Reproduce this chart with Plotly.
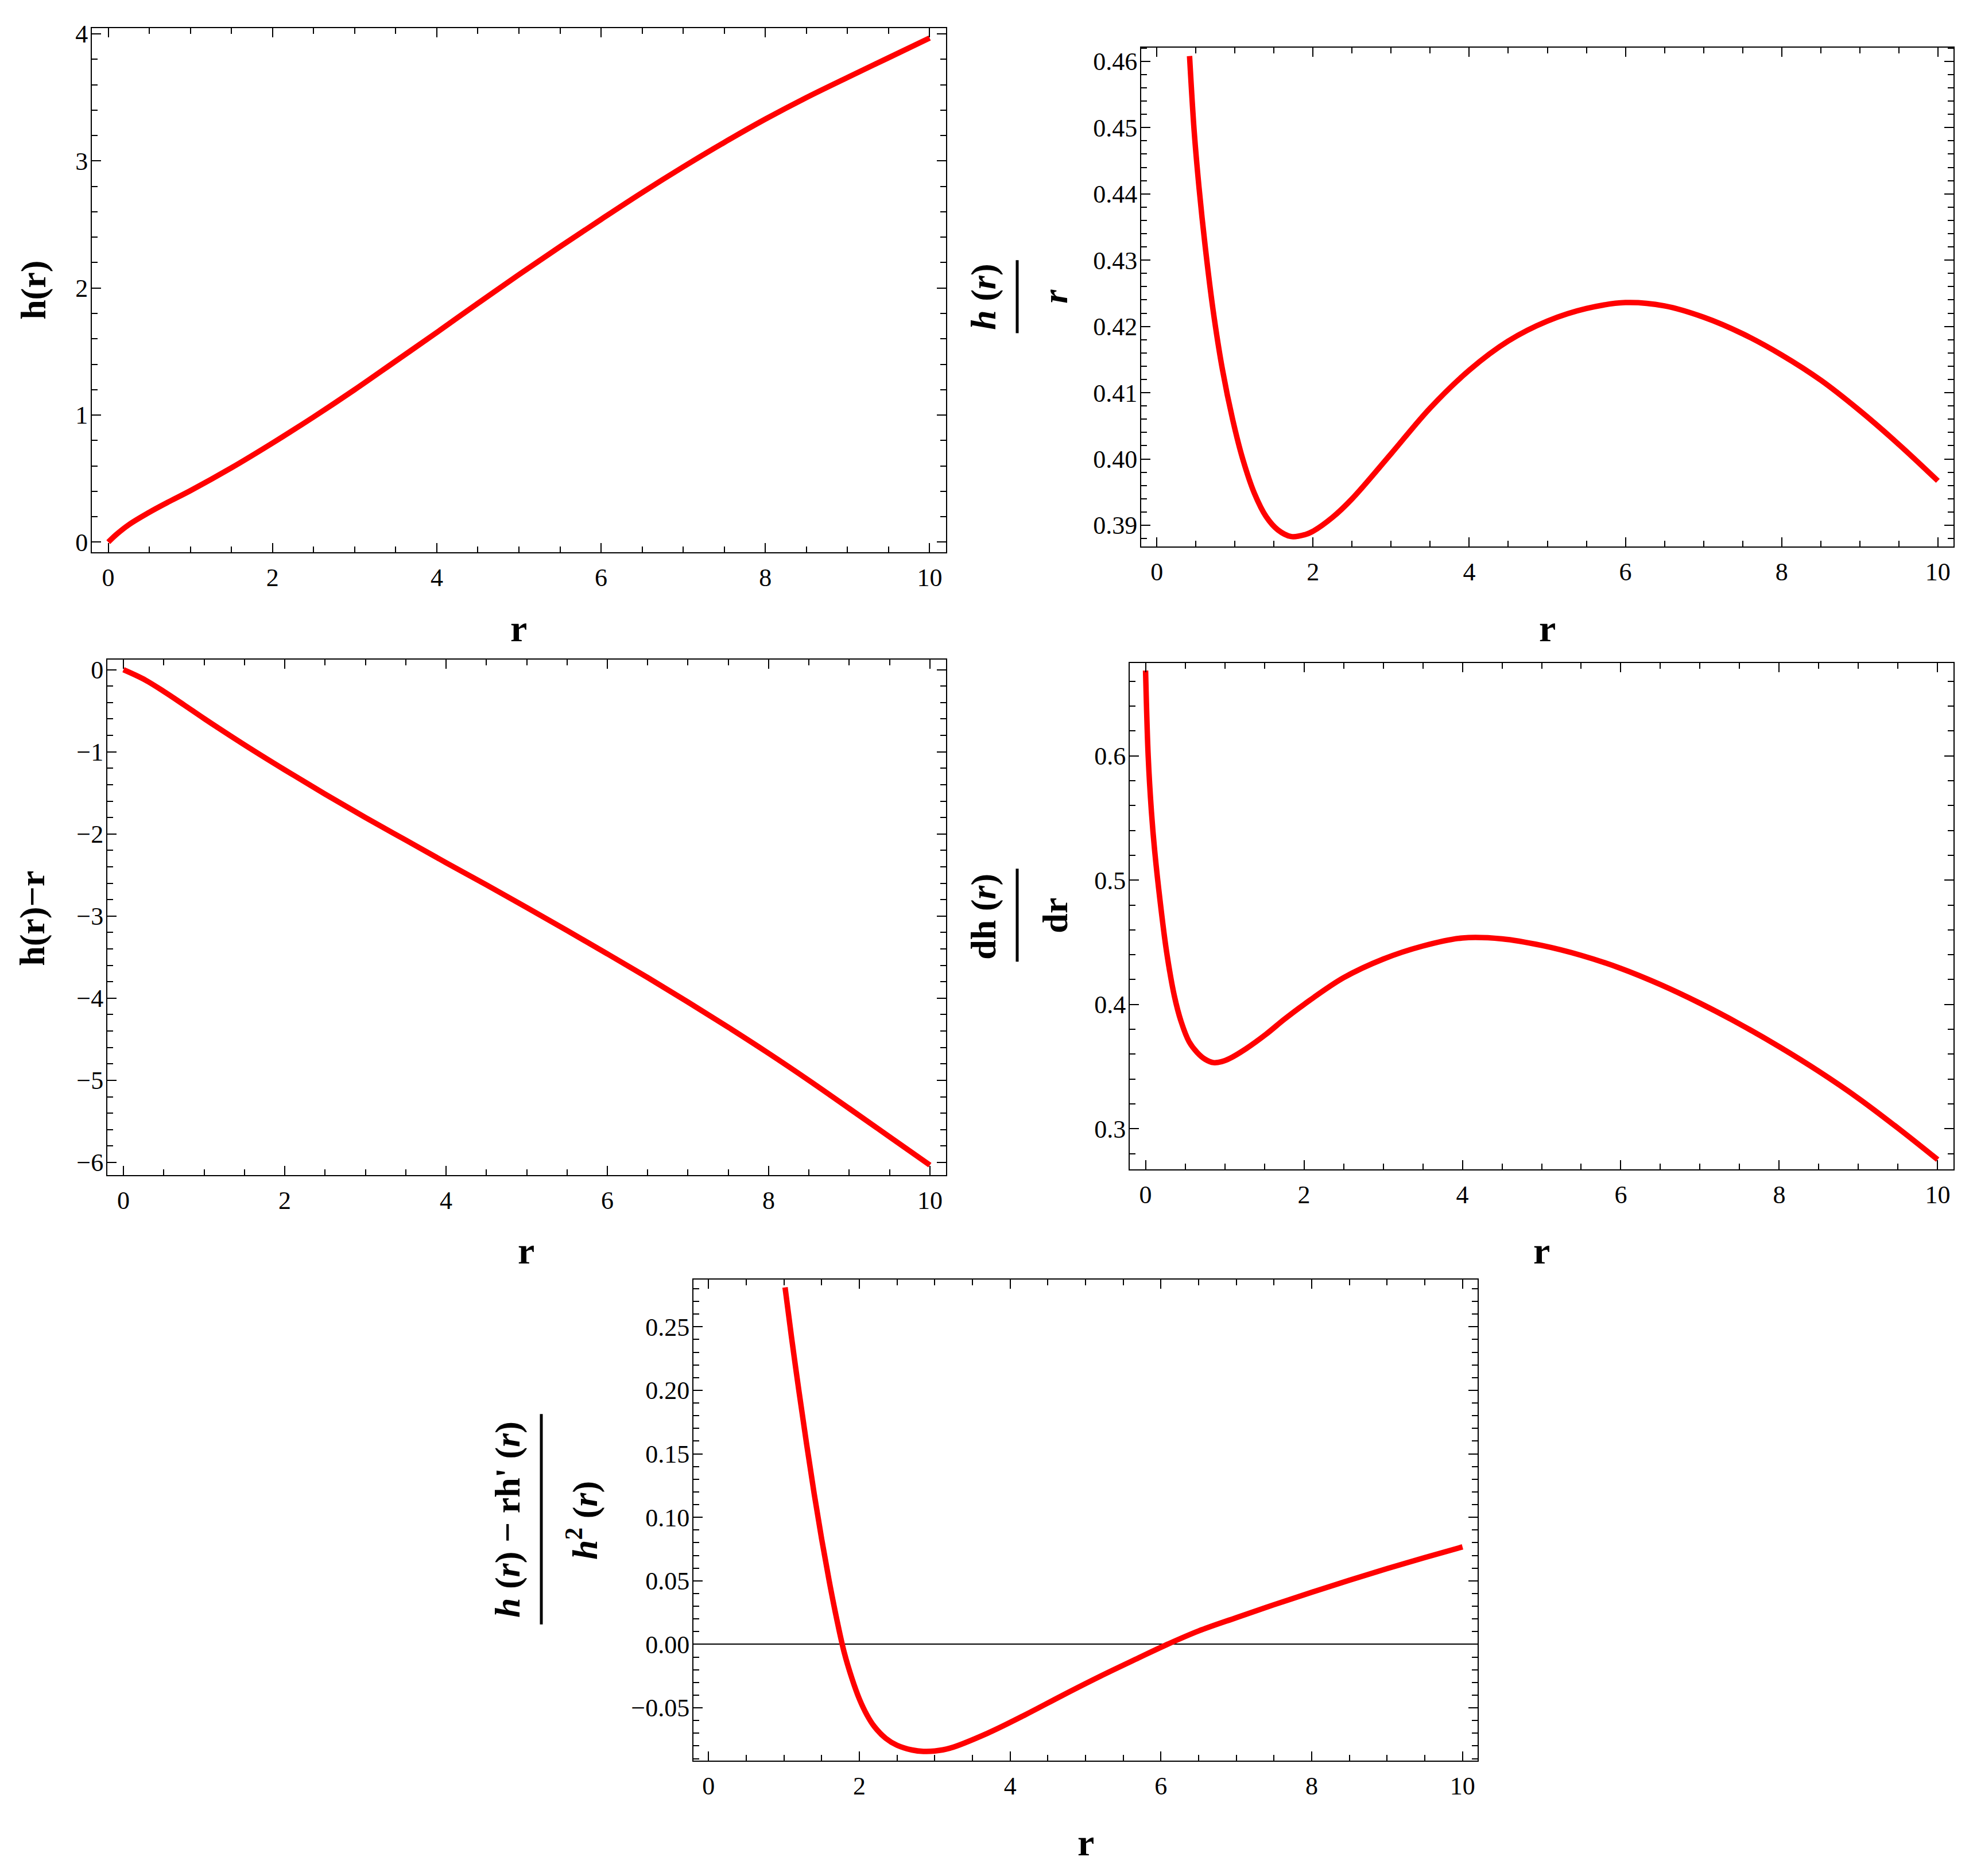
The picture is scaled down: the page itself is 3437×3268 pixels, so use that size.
import plotly.graph_objects as go

W, H = 3437, 3268
FONT = "Liberation Serif"

# h(r)
r_h = [0, 0.1, 0.25, 0.5, 0.75, 1, 1.5, 2, 2.5, 3, 3.5, 4, 4.5, 5, 5.5, 6, 6.5, 7, 7.5, 8, 8.5, 9, 9.5, 10]
h_vals = [0, 0.061, 0.137, 0.235, 0.322, 0.405, 0.585, 0.78, 0.985, 1.20, 1.425, 1.65, 1.88, 2.105,
          2.325, 2.54, 2.751, 2.953, 3.146, 3.329, 3.499, 3.657, 3.812, 3.967]

# h(r)/r
r_ratio = [0.419, 0.478, 0.54, 0.62, 0.72, 0.84, 0.97, 1.1, 1.25, 1.4, 1.55, 1.72, 1.9, 2.0, 2.25,
           2.5, 3.0, 3.5, 4.0, 4.5, 5.0, 5.5, 6.0, 6.5, 7.0, 7.5, 8.0, 8.5, 9.0, 9.5, 10]
ratio_vals = [0.4608, 0.4495, 0.4410, 0.4320, 0.4225, 0.4135, 0.4060, 0.4000, 0.3948, 0.3913,
              0.3893, 0.3883, 0.3886, 0.3891, 0.3912, 0.3940, 0.4008, 0.4077, 0.4134, 0.4178,
              0.4208, 0.4227, 0.4236, 0.4231, 0.4214, 0.4189, 0.4157, 0.4119, 0.4073, 0.4022,
              0.3967]

# h(r) - r
r_diff = [0, 0.25, 0.5, 0.75, 1, 1.5, 2, 2.5, 3, 3.5, 4, 4.5, 5, 5.5, 6, 6.5, 7, 7.5, 8, 8.5, 9, 9.5, 10]
diff_vals = [0, -0.115, -0.265, -0.428, -0.595, -0.915, -1.22, -1.515, -1.80, -2.075, -2.35, -2.62,
             -2.895, -3.175, -3.46, -3.749, -4.047, -4.354, -4.671, -5.001, -5.343, -5.688, -6.033]

# dh/dr
r_deriv = [0, 0.033, 0.074, 0.116, 0.182, 0.264, 0.363, 0.45, 0.55, 0.65, 0.75, 0.86, 0.96, 1.06,
           1.27, 1.52, 1.75, 2.0, 2.5, 3.0, 3.5, 4.0, 4.5, 5.0, 5.5, 6.0, 6.5, 7.0, 7.5, 8.0, 8.5,
           9.0, 9.5, 10]
deriv_vals = [0.6686, 0.600, 0.555, 0.523, 0.484, 0.443, 0.407, 0.386, 0.370, 0.3615, 0.356, 0.3532,
              0.354, 0.3565, 0.3645, 0.376, 0.388, 0.400, 0.4215, 0.4365, 0.4470, 0.4535, 0.4528,
              0.4475, 0.4395, 0.4290, 0.4160, 0.4010, 0.3843, 0.3660, 0.3462, 0.3245, 0.3005, 0.2752]

# (h - r h') / h^2
r_q = [1.015, 1.1, 1.2, 1.3, 1.4, 1.5, 1.6, 1.7, 1.8, 1.9, 2.0, 2.1, 2.2, 2.35, 2.5, 2.7, 2.85,
       3.0, 3.2, 3.7, 4.2, 4.7, 5.2, 5.7, 6.05, 6.5, 7.0, 7.5, 8.0, 8.5, 9.0, 9.5, 10]
q_vals = [0.281, 0.242, 0.199, 0.158, 0.119, 0.083, 0.050, 0.020, -0.0065, -0.0265, -0.0430,
          -0.0555, -0.0648, -0.0740, -0.0795, -0.0832, -0.0843, -0.0840, -0.0818, -0.0700,
          -0.0555, -0.0400, -0.0250, -0.0108, -0.0010, 0.0105, 0.0210, 0.0312, 0.0410, 0.0505,
          0.0596, 0.0683, 0.0767]


def px(x):
    return x / W


def py(y):
    return 1 - y / H


# frame boxes in pixels: left, right, top, bottom
panels = [
    dict(x=r_h, y=h_vals, box=(152, 1640, 28, 947), yr=[-0.079, 4.046], dt=1, mdt=0.2, fmt=""),
    dict(x=r_ratio, y=ratio_vals, box=(1980, 3395, 62, 937), yr=[0.3868, 0.4621], dt=0.01, mdt=0.002, fmt=".2f"),
    dict(x=r_diff, y=diff_vals, box=(179, 1640, 1135, 2039), yr=[-6.153, 0.125], dt=1, mdt=0.2, fmt=""),
    dict(x=r_deriv, y=deriv_vals, box=(1960, 3395, 1141, 2029), yr=[0.2674, 0.6748], dt=0.1, mdt=0.02, fmt=".1f"),
    dict(x=r_q, y=q_vals, box=(1200, 2566, 2222, 3066), yr=[-0.0917, 0.2873], dt=0.05, mdt=0.01, fmt=".2f"),
]

fig = go.Figure()
layout = {}
tickfont = dict(family=FONT, size=44, color="black")

for i, p in enumerate(panels, start=1):
    l, r, t, b = p["box"]
    fig.add_trace(go.Scatter(
        x=p["x"], y=p["y"], mode="lines",
        line=dict(color="#ff0000", width=9.5, shape="spline", smoothing=1.0),
        xaxis=f"x{i}", yaxis=f"y{i}", showlegend=False, hoverinfo="skip"))

    common = dict(showline=True, linecolor="black", linewidth=2, mirror="allticks",
                  ticks="inside", ticklen=16, tickwidth=2, tickcolor="black",
                  showgrid=False, zeroline=False, tickfont=tickfont)
    layout[f"xaxis{i}"] = dict(
        common, domain=[px(l), px(r)], anchor=f"y{i}", range=[-0.2, 10.2],
        tick0=0, dtick=2, ticklabelstandoff=4,
        minor=dict(ticks="inside", ticklen=10, tickwidth=2, tickcolor="black", dtick=0.5, tick0=0))
    layout[f"yaxis{i}"] = dict(
        common, domain=[py(b), py(t)], anchor=f"x{i}", range=p["yr"],
        tick0=0, dtick=p["dt"], tickformat=p["fmt"], ticklabelstandoff=-4,
        minor=dict(ticks="inside", ticklen=10, tickwidth=2, tickcolor="black", dtick=p["mdt"], tick0=0))

# the last panel shows the r axis at zero
layout["yaxis5"].update(zeroline=True, zerolinecolor="black", zerolinewidth=2)

annotations = []


def label(text, x, y, size=62, angle=-90):
    annotations.append(dict(text=text, x=px(x), y=py(y), xref="paper", yref="paper",
                            xanchor="center", yanchor="middle", showarrow=False,
                            textangle=angle, font=dict(family=FONT, size=size, color="black")))


# y labels
label("<b>h(r)</b>", 51, 488)
label("<b>h(r)−r</b>", 49, 1589)
label("<b><i>h</i> (<i>r</i>)</b>", 1706, 500)
label("<b><i>r</i></b>", 1830, 499)
label("<b>dh (<i>r</i>)</b>", 1706, 1586)
label("<b>dr</b>", 1830, 1584)
label("<b><i>h</i> (<i>r</i>) − rh' (<i>r</i>)</b>", 876, 2643)
label("<b><i>h</i><sup>2</sup> (<i>r</i>)</b>", 1006, 2645)

# x labels
for x, y in [(896, 1080), (2687, 1080), (909, 2171), (2677, 2171), (1883, 3209)]:
    label("<b>r</b>", x, y, size=66, angle=0)

# fraction bars
shapes = []
for x, y0, y1 in [(1764, 435, 563), (1764, 1502, 1665), (935, 2458, 2827)]:
    shapes.append(dict(type="line", xref="paper", yref="paper", x0=px(x), x1=px(x),
                       y0=py(y0), y1=py(y1), line=dict(color="black", width=5)))

fig.update_layout(
    width=W, height=H, margin=dict(l=0, r=0, t=0, b=0),
    paper_bgcolor="white", plot_bgcolor="white",
    annotations=annotations, shapes=shapes, **layout)

fig.write_html("out.html")
